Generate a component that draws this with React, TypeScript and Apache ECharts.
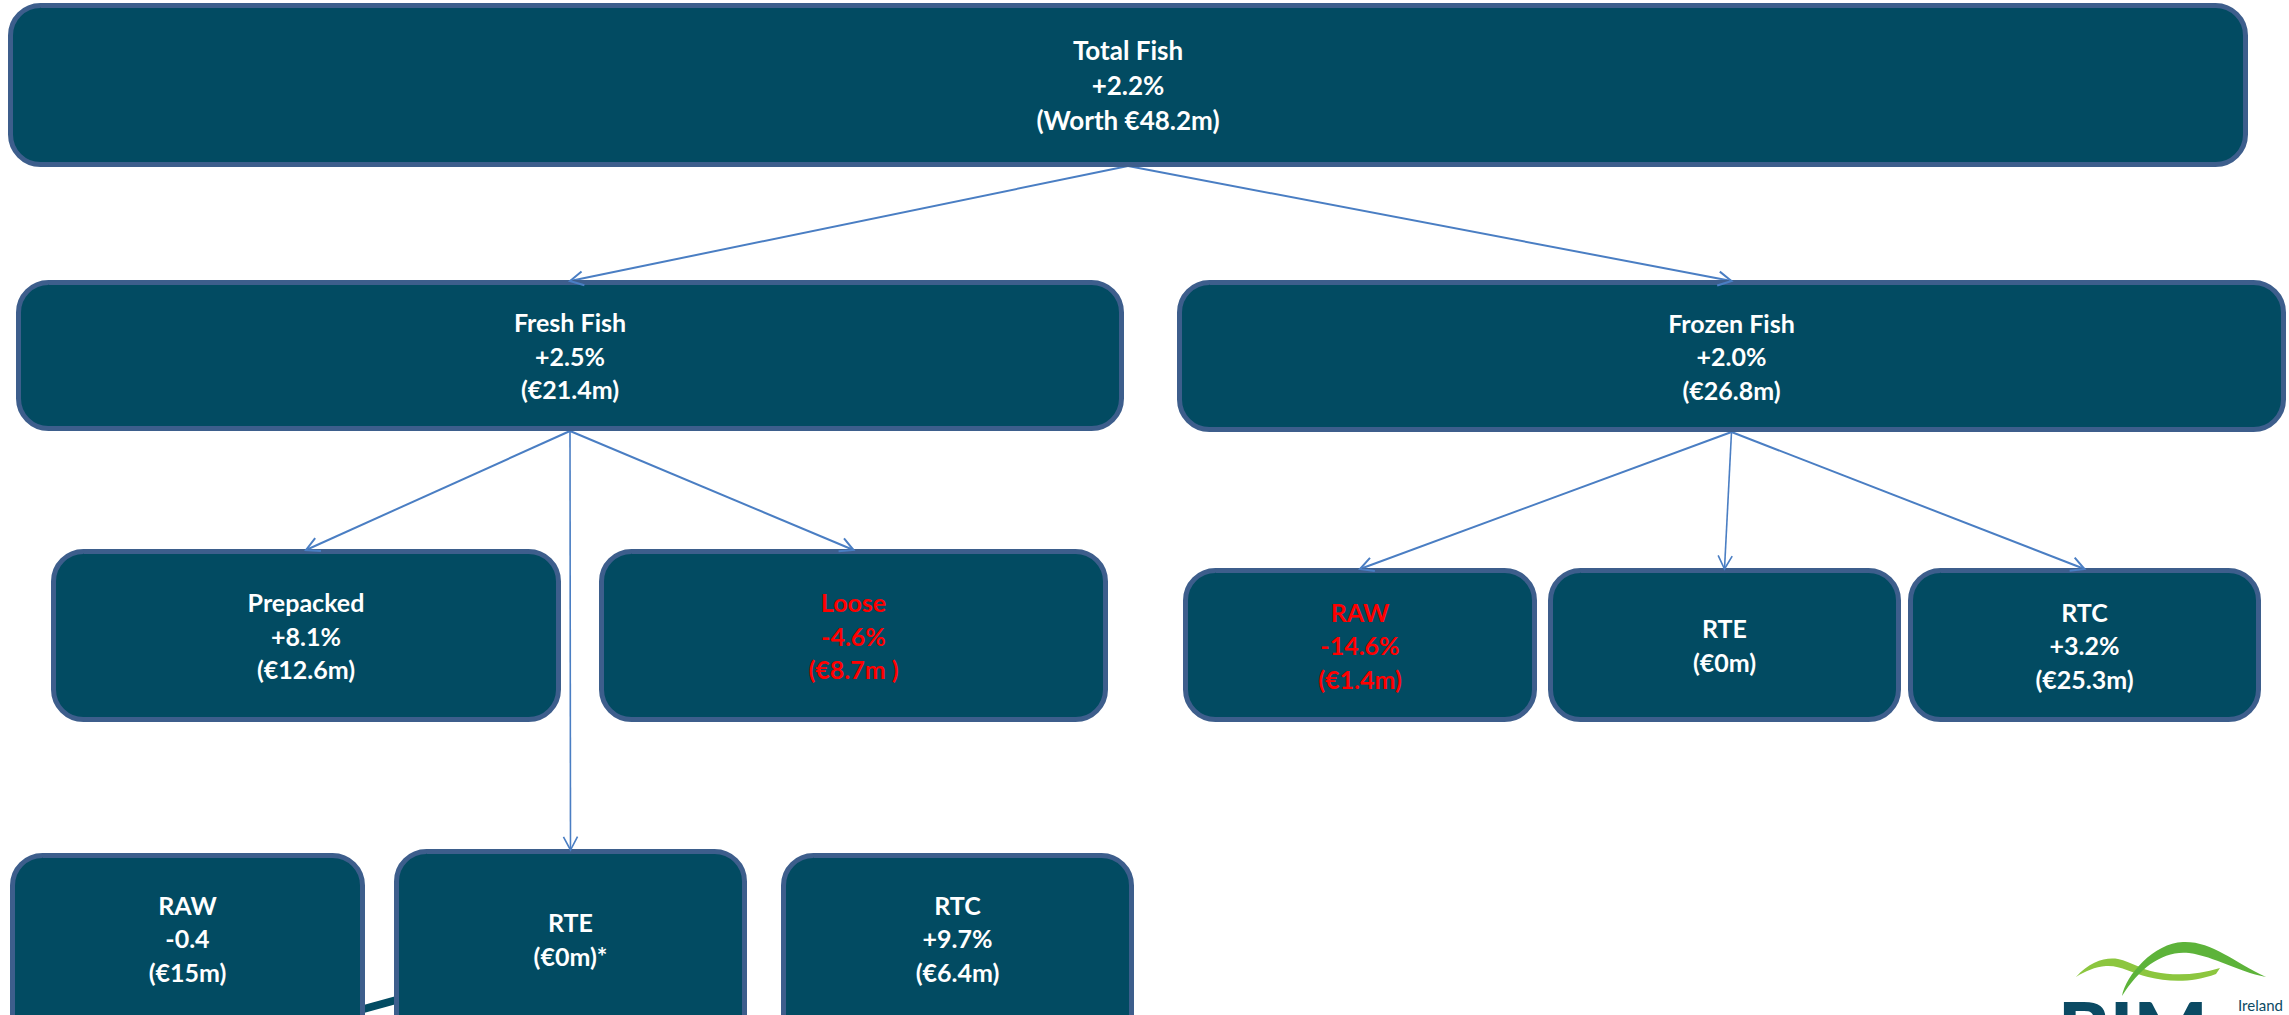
import React, { useEffect, useRef } from "react";
import * as echarts from "echarts";

// ---- data ----
const nodeNames = ["Total Fish", "Fresh Fish", "Frozen Fish", "Prepacked", "Loose", "RAW", "RTE", "RTC", "RAW", "RTE", "RTC"];
const nodeChange = ["+2.2%", "+2.5%", "+2.0%", "+8.1%", "-4.6%", "-14.6%", "", "+3.2%", "-0.4", "", "+9.7%"];
const nodeValue = ["(Worth €48.2m)", "(€21.4m)", "(€26.8m)", "(€12.6m)", "(€8.7m )", "(€1.4m)", "(€0m)", "(€25.3m)", "(€15m)", "(€0m)*", "(€6.4m)"];
const nodeNegative = [false, false, false, false, true, true, false, false, false, false, false];
const edges: [number, number][] = [[0, 1], [0, 2], [1, 3], [1, 4], [1, 9], [2, 5], [2, 6], [2, 7]];

// ---- layout (outer box edges: x0, y0, x1, y1, text centre height) ----
const boxLayout: number[][] = [
  [8, 3, 2248, 167, 164],
  [16, 280, 1124, 431, 151],
  [1177, 280, 2286, 432, 152],
  [51, 549, 561, 722, 173],
  [599, 549, 1108, 722, 173],
  [1183, 568, 1537, 722, 154],
  [1548, 568, 1901, 722, 154],
  [1908, 568, 2261, 722, 154],
  [10, 853, 365, 1080, 170],
  [394, 849, 747, 1080, 180],
  [781, 853, 1134, 1080, 170],
];

const FILL = "#024B62";
const BORDER = "#3D5E8C";
const ARROW = "#4A7EC3";

const logoA = "M 6 42 C 20 26, 36 22, 48 24 C 62 27, 70 34, 85 37 C 105 41, 128 40, 150 33 L 146 39 C 122 48, 98 47, 78 42 C 62 38, 50 30, 36 31 C 25 32, 15 36, 6 42 Z";
const logoB = "M 52 61 C 56 40, 84 8, 113 7 C 142 6, 162 26, 196 42 C 166 36, 146 22, 119 18 C 94 15, 70 32, 52 61 Z";
echarts.graphic.registerShape("logoA", echarts.graphic.extendPath(logoA, {}));
echarts.graphic.registerShape("logoB", echarts.graphic.extendPath(logoB, {}));

function buildElements() {
  const els: any[] = [];
  // arrows
  edges.forEach(([p, c]) => {
    const pb = boxLayout[p];
    const cb = boxLayout[c];
    const sx = (pb[0] + pb[2]) / 2;
    const sy = pb[1] + (p === 0 ? 163 : pb[3] - pb[1]);
    const tx = (cb[0] + cb[2]) / 2;
    const ty = cb[1] + 1;
    const ang = Math.atan2(ty - sy, tx - sx);
    const L = 15;
    const a = (28 * Math.PI) / 180;
    const w = c === 9 || c === 6 ? 1.6 : 2;
    els.push({
      type: "line",
      z: 1,
      shape: { x1: sx, y1: sy, x2: tx, y2: ty },
      style: { stroke: ARROW, lineWidth: w },
    });
    els.push({
      type: "polyline",
      z: 5,
      shape: {
        points: [
          [tx - L * Math.cos(ang - a), ty - L * Math.sin(ang - a)],
          [tx, ty],
          [tx - L * Math.cos(ang + a), ty - L * Math.sin(ang + a)],
        ],
      },
      style: { stroke: ARROW, lineWidth: w, fill: null },
    });
  });
  // bottom connector
  els.push({
    type: "line",
    z: 2,
    shape: { x1: 360, y1: 1010, x2: 400, y2: 999 },
    style: { stroke: FILL, lineWidth: 8 },
  });
  // boxes
  boxLayout.forEach((b, i) => {
    const [x0, y0, x1, y1, th] = b;
    els.push({
      type: "rect",
      z: 3,
      shape: { x: x0 + 2.5, y: y0 + 2.5, width: x1 - x0 - 5, height: y1 - y0 - 5, r: 30 },
      style: { fill: FILL, stroke: BORDER, lineWidth: 5 },
    });
    const lines = [nodeNames[i], nodeChange[i], nodeValue[i]].filter((s) => s !== "");
    const big = i === 0;
    els.push({
      type: "text",
      z: 10,
      style: {
        text: lines.join("\n"),
        x: (x0 + x1) / 2,
        y: y0 + th / 2,
        align: "center",
        verticalAlign: "middle",
        fontFamily: "Lato",
        fontWeight: "bold",
        fontSize: big ? 26 : 25,
        lineHeight: big ? 35 : 33.5,
        fill: nodeNegative[i] ? "#FF0000" : "#FFFFFF",
      },
    });
  });
  // logo
  els.push({ type: "logoA", z: 6, x: 2070, y: 935, style: { fill: "#8CC63F" } });
  els.push({ type: "logoB", z: 7, x: 2070, y: 935, style: { fill: "#5DB33A" } });
  els.push({
    type: "text",
    z: 8,
    style: { text: "BIM", x: 2058, y: 990, fontFamily: "Lato", fontWeight: 900, fontSize: 78, fill: "#0B4A63", verticalAlign: "top" },
  });
  els.push({
    type: "text",
    z: 8,
    style: { text: "Ireland", x: 2238, y: 997, fontFamily: "Lato", fontSize: 15, fill: "#0B4A63", verticalAlign: "top" },
  });
  return els;
}

export default function App() {
  const ref = useRef<HTMLDivElement>(null);
  useEffect(() => {
    document.body.style.margin = "0";
    if (!ref.current) return;
    const chart = echarts.init(ref.current, null, { renderer: "svg", width: 2289, height: 1015 });
    chart.setOption({
      animation: false,
      backgroundColor: "#FFFFFF",
      graphic: { elements: buildElements() },
    });
    return () => chart.dispose();
  }, []);
  return <div ref={ref} style={{ width: 2289, height: 1015, overflow: "hidden" }} />;
}
